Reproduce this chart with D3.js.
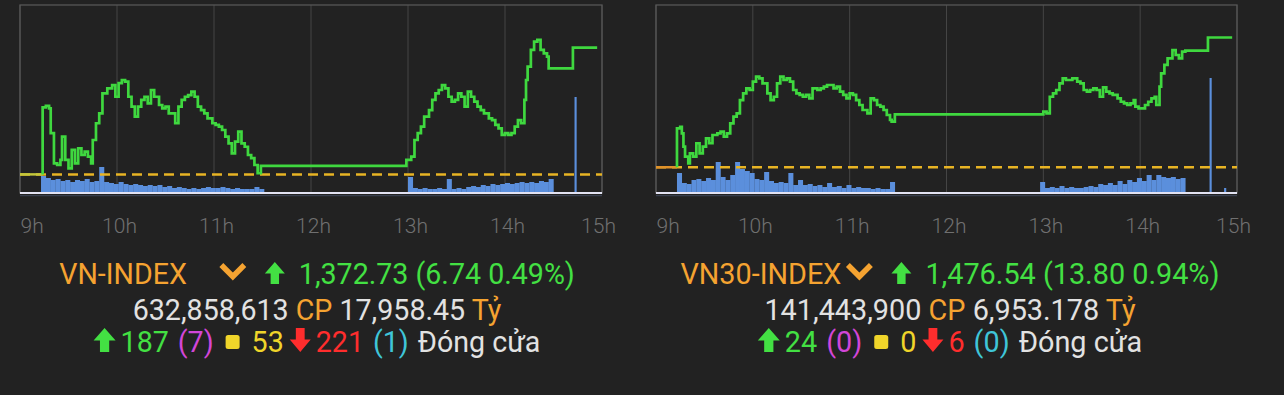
<!DOCTYPE html>
<html>
<head>
<meta charset="utf-8">
<script src="https://cdn.jsdelivr.net/npm/d3@7"></script>
<style>
  html, body { margin: 0; padding: 0; background: #222222; }
  svg { display: block; }
  text { font-family: Roboto, "Liberation Sans", Arial, sans-serif; }
</style>
</head>
<body>
<div id="chart"></div>
<script>
// Axis
const hourMinutes = [0, 60, 120, 180, 240, 300, 360]; // minutes after 9:00
const hourLabels = ["9h", "10h", "11h", "12h", "13h", "14h", "15h"];

// VN-INDEX intraday (minutes after 9:00 / index points)
const vnRef = 1365.99;
const vnMinutes = [
  14, 16, 18, 19, 21, 23, 25, 26, 28, 30, 32, 34, 36, 38, 40, 42, 44, 45, 47, 49,
  51, 54, 57, 59, 61, 63, 65, 67, 69, 71, 73, 75, 77, 79, 81, 83, 86, 88, 90, 92,
  94, 96, 98, 100, 102, 104, 106, 108, 110, 112, 114, 116, 119, 121, 123, 125, 127, 129, 131, 133,
  135, 137, 139, 141, 143, 145, 147, 149,
  239, 242, 244, 246, 248, 250, 253, 255, 257, 259, 261, 263, 265, 267, 269, 271, 273, 275, 277, 279,
  281, 283, 285, 287, 290, 292, 294, 296, 298, 300, 302, 304, 306, 308, 310, 312, 313, 314, 316, 318,
  320, 322, 324, 326, 327, 342, 357,
];
const vnValues = [
  1369.55, 1369.63, 1369.5, 1368.18, 1366.58, 1366.49, 1366.76, 1368.0, 1366.76, 1366.31,
  1367.29, 1366.58, 1367.38, 1367.02, 1367.2, 1366.93, 1366.58, 1367.82, 1368.71, 1369.24,
  1370.3, 1370.57, 1370.74, 1370.12, 1370.84, 1371.01, 1370.92, 1370.12, 1369.59, 1369.06,
  1369.59, 1369.95, 1370.12, 1369.77, 1370.48, 1370.12, 1369.68, 1369.5, 1369.59, 1369.24,
  1369.24, 1368.71, 1369.59, 1369.95, 1370.12, 1370.21, 1370.39, 1370.12, 1369.59, 1369.41,
  1369.24, 1368.97, 1368.71, 1368.62, 1368.53, 1368.35, 1368.0, 1367.64, 1367.11, 1367.73,
  1368.26, 1367.64, 1367.46, 1367.02, 1366.85, 1366.49, 1366.05, 1366.44,
  1366.76, 1366.93, 1367.82, 1368.18, 1368.53, 1369.06, 1369.41, 1369.95, 1370.3, 1370.48,
  1370.74, 1370.57, 1370.12, 1369.86, 1369.95, 1370.3, 1370.12, 1369.59, 1370.39, 1370.12,
  1369.86, 1369.59, 1369.41, 1369.24, 1368.97, 1368.88, 1368.62, 1368.44, 1368.09, 1368.18,
  1368.09, 1368.18, 1368.53, 1368.88, 1368.71, 1369.95, 1371.01, 1371.72, 1372.61, 1373.05,
  1373.14, 1372.61, 1372.43, 1372.25, 1371.63, 1372.73, 1372.73,
];
// volume, 3-minute bins
const vnVolMorningStart = 13;
const vnVolMorning = [
  17, 15, 13, 14, 12, 13, 11, 13, 12, 14, 11, 12, 26, 11, 10, 9, 11, 9, 8, 9,
  8, 7, 8, 7, 8, 6, 7, 5, 6, 5, 4, 5, 4, 5, 6, 5, 5, 6, 5, 4,
  5, 4, 4, 4, 6, 4,
];
const vnVolAfternoonStart = 240;
const vnVolAfternoon = [
  16, 5, 4, 5, 4, 4, 5, 4, 14, 4, 5, 4, 6, 7, 6, 8, 7, 9, 8, 9,
  10, 9, 10, 11, 10, 11, 10, 12, 11, 14,
];
const vnVolExtraMinutes = [343];
const vnVolExtra = [96];
const vnQuote = ["1,372.73", "6.74", "0.49%"];
const vnTrade = ["632,858,613", "17,958.45"];
const vnBreadth = ["187", "(7)", "53", "221", "(1)"];

// VN30-INDEX intraday
const vn30Ref = 1462.74;
const vn30Minutes = [
  13, 15, 16, 17, 18, 20, 21, 23, 25, 27, 29, 31, 33, 35, 38, 40, 42, 44, 46, 48,
  50, 52, 54, 56, 58, 60, 62, 64, 66, 69, 71, 73, 75, 77, 79, 81, 83, 85, 87, 89,
  91, 93, 95, 97, 100, 102, 104, 106, 110, 112, 114, 116, 118, 120, 122, 124, 126, 128, 131, 133,
  135, 137, 139, 141, 143, 145, 146, 148,
  240, 242, 244, 246, 248, 250, 252, 254, 258, 261, 263, 265, 267, 269, 271, 273, 275, 277, 279, 281,
  283, 286, 288, 290, 292, 294, 296, 297, 299, 303, 305, 307, 309, 310, 312, 313, 315, 317, 320, 322,
  324, 326, 328, 342, 357,
];
const vn30Values = [
  1466.88, 1467.05, 1466.35, 1464.93, 1463.86, 1463.16, 1464.22, 1463.86, 1465.29, 1464.22,
  1464.93, 1465.82, 1465.29, 1466.17, 1466.35, 1466.52, 1465.99, 1466.35, 1467.41, 1468.12,
  1468.48, 1469.89, 1470.6, 1471.14, 1470.96, 1471.84, 1472.37, 1472.2, 1471.67, 1470.6,
  1469.89, 1470.24, 1471.67, 1472.37, 1472.02, 1472.2, 1471.84, 1470.96, 1470.6, 1470.43,
  1470.24, 1470.43, 1470.07, 1471.14, 1470.96, 1471.14, 1471.31, 1471.49, 1471.14, 1471.31,
  1470.78, 1470.43, 1470.07, 1470.6, 1470.43, 1469.89, 1469.36, 1468.83, 1468.48, 1470.07,
  1469.89, 1469.36, 1469.18, 1468.83, 1468.3, 1467.77, 1467.59, 1468.37,
  1468.65, 1468.48, 1470.24, 1470.6, 1470.96, 1471.67, 1472.2, 1472.02, 1472.2, 1471.84,
  1471.67, 1470.96, 1470.78, 1470.96, 1471.14, 1470.96, 1470.24, 1471.24, 1470.78, 1470.6,
  1470.43, 1470.07, 1469.71, 1469.54, 1469.36, 1469.54, 1469.89, 1469.18, 1469.01, 1469.36,
  1469.71, 1470.07, 1470.24, 1469.36, 1471.31, 1472.73, 1473.62, 1474.33, 1475.21, 1474.68,
  1474.33, 1475.03, 1475.14, 1476.54, 1476.54,
];
const vn30VolMorningStart = 13;
const vn30VolMorning = [
  20, 10, 9, 13, 14, 12, 15, 13, 31, 16, 13, 18, 31, 24, 22, 20, 14, 13, 21, 12,
  10, 11, 10, 20, 8, 13, 8, 9, 7, 8, 6, 10, 6, 7, 5, 8, 5, 6, 5, 5,
  4, 5, 4, 4, 11,
];
const vn30VolAfternoonStart = 238;
const vn30VolAfternoon = [
  11, 5, 6, 5, 7, 5, 6, 5, 5, 6, 7, 6, 9, 8, 10, 8, 12, 9, 13, 11,
  15, 12, 18, 13, 18, 16, 15, 16, 14, 15,
];
const vn30VolExtraMinutes = [343, 352];
const vn30VolExtra = [115, 5];
const vn30Quote = ["1,476.54", "13.80", "0.94%"];
const vn30Trade = ["141,443,900", "6,953.178"];
const vn30Breadth = ["24", "(0)", "0", "6", "(0)"];

// Colours
const C = {
  bg: "#222222",
  frame: "#575757",
  grid: "#454545",
  line: "#3fd83f",
  bar: "#5b8fdc",
  ref: "#e8b424",
  base: "#e2e2f2",
  axis: "#707070",
  green: "#43e043",
  orange: "#f5a331",
  white: "#e2e2e2",
  magenta: "#d246d8",
  yellow: "#f0d52a",
  red: "#ff2d2d",
  cyan: "#3fc5d8",
};

const BIN = 3;
const TOP = 5;
const BOTTOM = 193;

const panels = [
  {
    name: "VN-INDEX", ref: vnRef, minutes: vnMinutes, values: vnValues, yDomain: [1365, 1375],
    vol: [[vnVolMorningStart, vnVolMorning], [vnVolAfternoonStart, vnVolAfternoon]],
    volExtra: [vnVolExtraMinutes, vnVolExtra],
    quote: vnQuote, trade: vnTrade, breadth: vnBreadth,
    x0: 20, width: 582, fs: 28.6, cx: 317, nameGap: 32, preOpen: "#c3c73c",
  },
  {
    name: "VN30-INDEX", ref: vn30Ref, minutes: vn30Minutes, values: vn30Values, yDomain: [1460, 1480],
    vol: [[vn30VolMorningStart, vn30VolMorning], [vn30VolAfternoonStart, vn30VolAfternoon]],
    volExtra: [vn30VolExtraMinutes, vn30VolExtra],
    quote: vn30Quote, trade: vn30Trade, breadth: vn30Breadth,
    x0: 656, width: 581, fs: 28.8, cx: 950, nameGap: 4, preOpen: "#e0922a",
  },
];

// Icons (bold arrows, chevron, square)
const arrowPath = (w, h) =>
  `M${w / 2},0 L${w},${h * 0.52} L${w * 0.71},${h * 0.52} L${w * 0.71},${h} L${w * 0.29},${h} L${w * 0.29},${h * 0.52} L0,${h * 0.52} Z`;

const upArrow = (w, h, color) => (g) =>
  g.append("path").attr("d", arrowPath(w, h)).attr("fill", color);

const downArrow = (w, h, color) => (g) =>
  g.append("path")
    .attr("d", arrowPath(w, h))
    .attr("transform", `translate(0,${h}) scale(1,-1)`)
    .attr("fill", color);

const chevron = (color) => (g) =>
  g.append("path")
    .attr("d", "M2.5,3 L14,14.5 L25.5,3")
    .attr("fill", "none")
    .attr("stroke", color)
    .attr("stroke-width", 5.5);

const square = (color) => (g) =>
  g.append("rect").attr("width", 14).attr("height", 14).attr("rx", 2.5).attr("fill", color);

// Lays a row of texts and icons side by side, centred on cx
const layoutRow = (g, items, cx, baseline, fs) => {
  const nodes = items.map((item) => {
    if (item.text !== undefined) {
      const t = g.append("text")
        .attr("y", baseline)
        .attr("font-size", fs)
        .attr("fill", item.color)
        .text(item.text);
      return { sel: t, width: t.node().getComputedTextLength(), gap: item.gap || 0 };
    }
    const ic = g.append("g");
    item.draw(ic);
    return { sel: ic, width: item.width, gap: item.gap || 0, top: item.top };
  });
  const total = d3.sum(nodes, (n) => n.width + n.gap);
  let x = cx - total / 2;
  nodes.forEach((n) => {
    x += n.gap;
    if (n.top === undefined) n.sel.attr("x", x);
    else n.sel.attr("transform", `translate(${x},${baseline - n.top})`);
    x += n.width;
  });
};

const drawPanel = (svg, p) => {
  const g = svg.append("g");
  const x = d3.scaleLinear().domain([0, 360]).range([p.x0, p.x0 + p.width]);
  const y = d3.scaleLinear().domain(p.yDomain).range([BOTTOM, TOP]);
  const yVol = d3.scaleLinear().domain([0, BOTTOM - TOP]).range([BOTTOM, TOP]);

  // grid
  g.append("g")
    .selectAll("line")
    .data(hourMinutes)
    .join("line")
    .attr("x1", (d) => x(d))
    .attr("x2", (d) => x(d))
    .attr("y1", TOP)
    .attr("y2", BOTTOM)
    .attr("stroke", C.grid)
    .attr("stroke-width", 1);

  g.append("rect")
    .attr("x", x(0))
    .attr("y", TOP)
    .attr("width", x(360) - x(0))
    .attr("height", BOTTOM - TOP)
    .attr("fill", "none")
    .attr("stroke", C.frame)
    .attr("stroke-width", 1.3);

  // volume bars
  const bins = [];
  p.vol.forEach(([start, vals]) =>
    vals.forEach((v, i) => bins.push({ t: start + i * BIN, v, w: BIN })),
  );
  p.volExtra[0].forEach((t, i) => bins.push({ t, v: p.volExtra[1][i], w: 1.2 }));

  g.append("g")
    .selectAll("rect")
    .data(bins)
    .join("rect")
    .attr("x", (d) => x(d.t))
    .attr("y", (d) => yVol(d.v))
    .attr("width", (d) => Math.max(2, x(d.t + d.w) - x(d.t) + 0.2))
    .attr("height", (d) => BOTTOM - yVol(d.v))
    .attr("fill", C.bar);

  // reference (previous close)
  g.append("line")
    .attr("x1", x(0))
    .attr("x2", x(360))
    .attr("y1", y(p.ref))
    .attr("y2", y(p.ref))
    .attr("stroke", C.ref)
    .attr("stroke-width", 2.5)
    .attr("stroke-dasharray", "10,6");

  g.append("line")
    .attr("x1", x(0))
    .attr("x2", x(p.minutes[0]))
    .attr("y1", y(p.ref))
    .attr("y2", y(p.ref))
    .attr("stroke", p.preOpen)
    .attr("stroke-width", 2.5);

  // index line
  const pts = p.minutes.map((m, i) => [m, p.values[i]]);
  pts.unshift([p.minutes[0], p.ref]);
  g.append("path")
    .datum(pts)
    .attr("fill", "none")
    .attr("stroke", C.line)
    .attr("stroke-width", 2.7)
    .attr("d", d3.line().x((d) => x(d[0])).y((d) => y(d[1])).curve(d3.curveStepAfter));

  // base line
  g.append("line")
    .attr("x1", x(0)).attr("x2", x(360))
    .attr("y1", BOTTOM + 2.6).attr("y2", BOTTOM + 2.6)
    .attr("stroke", "#39404f").attr("stroke-width", 1.2);
  g.append("line")
    .attr("x1", x(0)).attr("x2", x(360))
    .attr("y1", BOTTOM).attr("y2", BOTTOM)
    .attr("stroke", C.base).attr("stroke-width", 2.2);

  // x axis labels
  const axis = g.append("g")
    .attr("transform", `translate(0,${BOTTOM})`)
    .call(
      d3.axisBottom(x)
        .tickValues(hourMinutes)
        .tickFormat((d, i) => hourLabels[i])
        .tickSize(0)
        .tickPadding(25),
    );
  axis.select(".domain").remove();
  axis.selectAll("text")
    .attr("fill", C.axis)
    .attr("font-size", 21)
    .attr("font-weight", 300)
    .attr("font-family", "Roboto, 'Liberation Sans', sans-serif")
    .attr("dx", (d, i) => (i === 0 ? 0 : i === hourMinutes.length - 1 ? -4 : 2))
    .attr("text-anchor", (d, i) => (i === 0 ? "start" : "middle"));

  // quote rows
  const fs = p.fs;
  layoutRow(g, [
    { text: p.name, color: C.orange },
    { draw: chevron(C.orange), width: 28, top: 22, gap: p.nameGap },
    { draw: upArrow(20, 22, C.green), width: 20, top: 22, gap: 18 },
    { text: `${p.quote[0]} (${p.quote[1]} ${p.quote[2]})`, color: C.green, gap: 14 },
  ], p.cx, 284, fs);

  const row2 = g.append("text")
    .attr("x", p.cx)
    .attr("y", 320)
    .attr("font-size", fs)
    .attr("text-anchor", "middle");
  row2.append("tspan").attr("fill", C.white).text(p.trade[0] + " ");
  row2.append("tspan").attr("fill", C.orange).text("CP ");
  row2.append("tspan").attr("fill", C.white).text(p.trade[1] + " ");
  row2.append("tspan").attr("fill", C.orange).text("Tỷ");

  layoutRow(g, [
    { draw: upArrow(22, 24, C.green), width: 22, top: 24 },
    { text: p.breadth[0], color: C.green, gap: 5 },
    { text: p.breadth[1], color: C.magenta, gap: 9 },
    { draw: square(C.yellow), width: 14, top: 17, gap: 12 },
    { text: p.breadth[2], color: C.yellow, gap: 12 },
    { draw: downArrow(21, 24, C.red), width: 21, top: 24, gap: 6 },
    { text: p.breadth[3], color: C.red, gap: 5 },
    { text: p.breadth[4], color: C.cyan, gap: 9 },
    { text: "Đóng cửa", color: C.white, gap: 9 },
  ], p.cx, 352, fs);
};

const svg = d3.select("#chart")
  .append("svg")
  .attr("width", 1284)
  .attr("height", 395);

svg.append("rect").attr("width", 1284).attr("height", 395).attr("fill", C.bg);

panels.forEach((p) => drawPanel(svg, p));
</script>
</body>
</html>
